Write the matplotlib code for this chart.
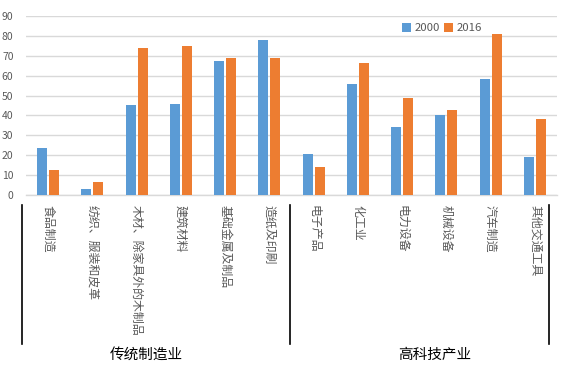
import matplotlib
matplotlib.use("Agg")
import matplotlib.pyplot as plt
import matplotlib.transforms as mtransforms
import numpy as np

plt.rcParams['font.family'] = ['Noto Sans CJK SC', 'DejaVu Sans']

categories = ["食品制造", "纺织、服装和皮革", "木材、除家具外的木制品", "建筑材料", "基础金属及制品", "造纸及印刷",
              "电子产品", "化工业", "电力设备", "机械设备", "汽车制造", "其他交通工具"]
v2000 = [23.7, 3.2, 45.2, 45.7, 67.2, 77.7, 20.7, 55.7, 34.2, 40.2, 58.2, 19.2]
v2016 = [12.7, 6.3, 73.7, 74.7, 68.7, 68.7, 14.2, 66.2, 48.7, 42.7, 81.2, 38.2]
series_names = ["2000", "2016"]
groups = ["传统制造业", "高科技产业"]
yticks = list(range(0, 100, 10))

W, H = 566, 377
fig = plt.figure(figsize=(W / 100, H / 100), dpi=100)
ax = fig.add_axes([26 / W, 1 - 195 / H, (557 - 26) / W, 179 / H])

x = np.arange(len(categories))
bw = 0.226
off = 0.136
ax.bar(x - off, v2000, width=bw, color="#5B9BD5", label=series_names[0], zorder=3)
ax.bar(x + off, v2016, width=bw, color="#ED7D31", label=series_names[1], zorder=3)

ax.set_xlim(-0.5, len(categories) - 0.5)
ax.set_ylim(0, 90)
ax.set_yticks(yticks)
ax.tick_params(axis='y', length=0, labelsize=7.5, labelcolor="#595959", pad=9)
ax.yaxis.grid(True, color="#D9D9D9", linewidth=1, zorder=0)
ax.set_axisbelow(True)
for s in ["top", "right", "left"]:
    ax.spines[s].set_visible(False)
ax.spines["bottom"].set_color("#D9D9D9")
ax.spines["bottom"].set_linewidth(1)

ax.set_xticks(x)
ax.set_xticklabels(categories, rotation=-90, fontsize=8.6, color="#595959", va="top", ha="center")
ax.tick_params(axis='x', length=0, pad=7)

trans = mtransforms.blended_transform_factory(ax.transData, fig.transFigure)
for xs in [-0.59, 5.47, 11.32]:
    ax.plot([xs, xs], [1 - 205 / H, 1 - 344 / H], color="black", linewidth=1.2,
            transform=trans, clip_on=False)
ax.text(2.21, 1 - 355 / H, groups[0], transform=trans, ha="center", va="center", fontsize=10.5, color="black")
ax.text(8.74, 1 - 355 / H, groups[1], transform=trans, ha="center", va="center", fontsize=10.5, color="black")

leg = ax.legend(loc="upper left", bbox_to_anchor=((402 - 26) / (557 - 26), 1 - (23 - 16) / 179),
                ncol=2, frameon=False, fontsize=8.2, handlelength=0.8, handleheight=0.8,
                handletextpad=0.3, columnspacing=0.35, borderaxespad=0, borderpad=0)
for t in leg.get_texts():
    t.set_color("#595959")

fig.savefig("out.png", dpi=100)
